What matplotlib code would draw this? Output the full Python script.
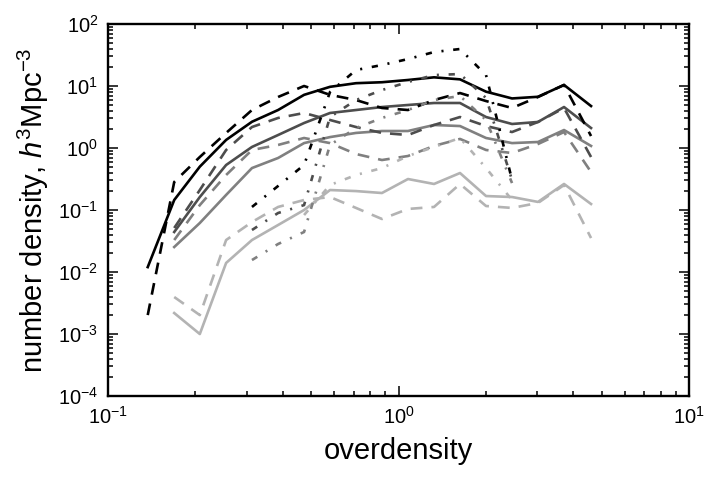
import numpy as np
import matplotlib
matplotlib.use('Agg')
import matplotlib.pyplot as plt

plt.rcParams['font.family'] = ['Liberation Sans', 'DejaVu Sans']
plt.rcParams['mathtext.fontset'] = 'custom'
plt.rcParams['mathtext.rm'] = 'Liberation Sans'
plt.rcParams['mathtext.it'] = 'Liberation Sans:italic'
plt.rcParams['lines.scale_dashes'] = False

# overdensity bins
overdensity = [0.137, 0.169, 0.207, 0.255, 0.313, 0.385, 0.473, 0.581, 0.714,
               0.877, 1.078, 1.325, 1.628, 2.001, 2.459, 3.021, 3.713, 4.60]

# solid lines
black_solid = [0.012, 0.145, 0.50, 1.35, 2.65, 4.1, 7.2, 9.7, 11.1, 11.5,
               12.5, 13.8, 12.8, 8.1, 6.3, 6.7, 10.4, 4.75]
dark_solid = [np.nan, 0.0442, 0.162, 0.532, 1.04, 1.62, 2.53, 3.67, 4.1, 4.58,
              4.94, 5.32, 5.32, 3.16, 2.44, 2.63, 4.58, 2.10]
mid_solid = [np.nan, 0.0253, 0.0617, 0.175, 0.475, 0.69, 1.20, 1.50, 1.75, 1.88,
             1.88, 2.35, 2.26, 1.45, 1.20, 1.25, 1.95, 1.08]
light_solid = [np.nan, 0.00218, 0.001, 0.014, 0.0328, 0.0573, 0.1, 0.21, 0.202, 0.188,
               0.316, 0.263, 0.395, 0.168, 0.162, 0.135, 0.263, 0.125]

# dashed lines
black_dash = [0.00202, 0.283, 0.716, 1.75, 4.1, 6.65, 10.0, 7.2, 5.94, 4.42,
              4.1, 5.94, 7.7, 5.72, 4.42, 6.65, 10.4, 1.56]
dark_dash = [np.nan, 0.0513, 0.21, 0.929, 2.18, 3.05, 3.67, 2.83, 2.18, 1.75,
             1.62, 2.35, 3.16, 2.26, 1.81, 2.63, 4.42, 0.716]
mid_dash = [np.nan, 0.0328, 0.12, 0.367, 0.929, 1.12, 1.45, 1.20, 0.80, 0.64,
            0.743, 1.08, 1.40, 0.929, 0.83, 1.16, 1.81, 0.41]
light_dash = [np.nan, 0.00395, 0.00202, 0.0328, 0.064, 0.112, 0.145, 0.162, 0.108, 0.0716,
              0.104, 0.112, 0.263, 0.116, 0.108, 0.13, 0.253, 0.0353]

# dash-dot lines
nan = np.nan
black_dd = [nan, nan, nan, nan, 0.112, 0.244, 0.532, 8.0, 18.1, 21.8,
            27.2, 35.3, 39.5, 15.0, 0.305, nan, nan, nan]
dark_dd = [nan, nan, nan, nan, 0.0476, 0.0895, 0.12, 3.16, 5.94, 8.6,
           11.6, 15.0, 15.6, 6.4, 0.305, nan, nan, nan]
mid_dd = [nan, nan, nan, nan, 0.0156, 0.0283, 0.0442, 1.12, 2.10, 3.05,
          4.1, 5.94, 6.9, 2.83, 0.272, nan, nan, nan]
light_dd = [nan, nan, nan, nan, nan, nan, 0.083, 0.253, 0.367, 0.475,
            0.743, 1.04, 1.45, 0.475, 0.145, nan, nan, nan]

shades = ['k', '0.3', '0.5', '0.7']
solid = [black_solid, dark_solid, mid_solid, light_solid]
dashed = [black_dash, dark_dash, mid_dash, light_dash]
dashdot = [black_dd, dark_dd, mid_dd, light_dd]

fig = plt.figure(figsize=(7.23, 4.78), dpi=100)
ax = fig.add_axes([0.1494, 0.1715, 0.8036, 0.7783])

lw = 1.9
for c, ys in zip(shades, solid):
    ax.plot(overdensity, ys, color=c, lw=lw, ls='-')
for c, ys in zip(shades, dashed):
    ax.plot(overdensity, ys, color=c, lw=lw, dashes=(8.5, 6.5))
for c, ys in zip(shades, dashdot):
    ax.plot(overdensity, ys, color=c, lw=lw, dashes=(4.5, 7, 1.5, 7))

ax.set_xscale('log')
ax.set_yscale('log')
ax.set_xlim(0.1, 10)
ax.set_ylim(1e-4, 1e2)

for s in ax.spines.values():
    s.set_linewidth(1.7)
ax.tick_params(which='both', direction='in', top=True, right=True, labelsize=14.5, pad=7)
ax.tick_params(which='major', length=7, width=1.1)
ax.tick_params(which='minor', length=3.5, width=1.1)

ax.set_xlabel('overdensity', fontsize=21, labelpad=7)
ax.set_ylabel('number density, $h^3$Mpc$^{-3}$', fontsize=21, labelpad=5)

fig.savefig('out.png', dpi=100)
